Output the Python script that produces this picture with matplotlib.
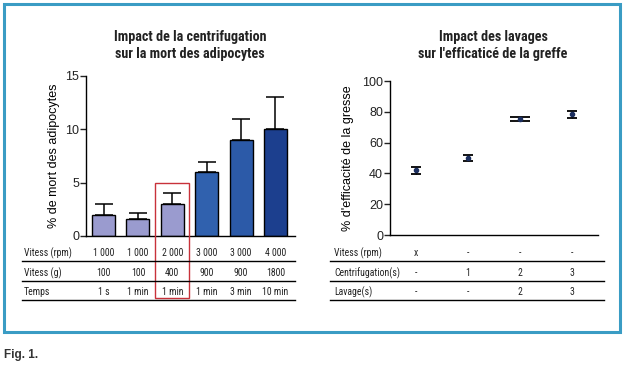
import matplotlib
matplotlib.use('Agg')
import matplotlib.pyplot as plt
from matplotlib import font_manager
from matplotlib.patches import Rectangle
from matplotlib.lines import Line2D
from matplotlib.transforms import blended_transform_factory

# données
vitess_rpm = ['1 000', '1 000', '2 000', '3 000', '3 000', '4 000']
vitess_g = ['100', '100', '400', '900', '900', '1800']
temps = ['1 s', '1 min', '1 min', '1 min', '3 min', '10 min']
mort = [2.0, 1.6, 3.0, 6.0, 9.0, 10.0]
mort_err = [1.0, 0.6, 1.0, 0.9, 2.0, 3.0]
bar_colors = ['#9a9bcf', '#9a9bcf', '#9a9bcf', '#3061ae', '#2c5aa8', '#1c3f8e']

lav_rpm = ['x', '-', '-', '-']
lav_centri = ['-', '1', '2', '3']
lav_lavage = ['-', '-', '2', '3']
efficacite = [42.0, 50.0, 75.3, 78.3]
eff_err = [2.3, 1.8, 1.0, 2.3]
eff_caps = [3.5, 3.5, 7, 3.5]

# police étroite si disponible
ttf = font_manager.fontManager.ttflist
names = {f.name for f in ttf}
narrow = None
for cand in ['Liberation Sans Narrow', 'Roboto Condensed', 'Open Sans Condensed',
             'Arial Narrow', 'DejaVu Sans Condensed']:
    if cand in names:
        narrow = {'family': cand}
        break
if narrow is None:
    cond = [f for f in ttf if f.stretch in ('condensed', 'semi-condensed', 'extra-condensed')
            or f.stretch in (500 - 200, 400 - 100)]
    if cond:
        narrow = {'family': cond[0].name, 'fontstretch': 'condensed'}
if narrow is None:
    narrow = {'family': 'Liberation Sans'}
    tab_size, title_size = 6.2, 8.2
else:
    tab_size, title_size = 7, 10.2

plt.rcParams['font.family'] = ['Liberation Sans', 'DejaVu Sans']

W, H = 627, 369
fig = plt.figure(figsize=(W / 100, H / 100), dpi=100)
fig.patch.set_facecolor('white')


def fx(px):
    return px / W


def fy(py):
    return 1 - py / H


# cadre bleu
fig.add_artist(Rectangle((fx(4), fy(332)), fx(616), 328 / H, transform=fig.transFigure,
                         fill=False, edgecolor='#3a9cc4', linewidth=2.2))

# ---- graphique gauche ----
ax1 = fig.add_axes([fx(86), fy(236), fx(295 - 86), (236 - 76) / H])
x1 = list(range(len(mort)))
ax1.bar(x1, mort, width=0.67, color=bar_colors, edgecolor='black', linewidth=1.0, zorder=2)
ax1.errorbar(x1, mort, yerr=[[0] * len(mort), mort_err], fmt='none', ecolor='black',
             elinewidth=1.1, capsize=6.8, capthick=1.1, zorder=1)
ax1.set_xlim(-0.51, 5.57)
ax1.set_ylim(0, 15)
ax1.set_yticks([0, 5, 10, 15])
ax1.set_xticks([])
ax1.set_ylabel('% de mort des adipocytes', fontsize=9, labelpad=4)

# ---- graphique droit ----
ax2 = fig.add_axes([fx(390), fy(235), fx(598 - 390), (235 - 81) / H])
x2 = list(range(len(efficacite)))
for xi, yi, ei, ci in zip(x2, efficacite, eff_err, eff_caps):
    ax2.errorbar(xi, yi, yerr=ei, fmt='o', color='#1c2f5f', markersize=3,
                 ecolor='black', elinewidth=1.0, capsize=ci, capthick=1.3)
ax2.set_xlim(-0.5, 3.5)
ax2.set_ylim(0, 100)
ax2.set_yticks([0, 20, 40, 60, 80, 100])
ax2.set_xticks([])
ax2.set_ylabel("% d'efficacité de la gresse", fontsize=9, labelpad=6)

for ax in (ax1, ax2):
    ax.spines['top'].set_visible(False)
    ax.spines['right'].set_visible(False)
    ax.spines['left'].set_linewidth(1.0)
    ax.spines['bottom'].set_linewidth(1.0)
    ax.tick_params(axis='y', length=4, width=1.0, labelsize=9, pad=1, colors='#222222')
    ax.patch.set_alpha(0)

# titres
fig.text(fx(190), fy(45.5), 'Impact de la centrifugation\nsur la mort des adipocytes',
         ha='center', va='center', fontsize=title_size, fontweight='bold',
         linespacing=1.25, color='#222222', **narrow)
fig.text(fx(493), fy(45.5), "Impact des lavages\nsur l'efficaticé de la greffe",
         ha='center', va='center', fontsize=title_size, fontweight='bold',
         linespacing=1.25, color='#222222', **narrow)

# tableaux sous les graphiques
row_y = [253, 273, 292]
line_y = [261, 281, 300]


def draw_table(ax, labels, rows, x0, x1px, lab_x):
    tr = blended_transform_factory(ax.transData, fig.transFigure)
    for ry, lab, vals in zip(row_y, labels, rows):
        fig.text(fx(lab_x), fy(ry), lab, ha='left', va='center', fontsize=tab_size,
                 color='#222222', **narrow)
        for xi, v in enumerate(vals):
            fig.text(xi, fy(ry), v, ha='center', va='center', fontsize=tab_size,
                     color='#222222', transform=tr, **narrow)
    for ly in line_y:
        fig.add_artist(Line2D([fx(x0), fx(x1px)], [fy(ly), fy(ly)],
                              transform=fig.transFigure, color='black', linewidth=1.0))


draw_table(ax1, ['Vitess (rpm)', 'Vitess (g)', 'Temps'],
           [vitess_rpm, vitess_g, temps], 22, 295, 24)
draw_table(ax2, ['Vitess (rpm)', 'Centrifugation(s)', 'Lavage(s)'],
           [lav_rpm, lav_centri, lav_lavage], 330, 604, 334)

# cadre rouge autour de la condition 2 000 rpm
top = fig.transFigure.inverted().transform(ax1.transData.transform((0, 5)))[1]
tr1 = blended_transform_factory(ax1.transData, fig.transFigure)
fig.add_artist(Rectangle((1.5, fy(298)), 1.0, top - fy(298), transform=tr1,
                         fill=False, edgecolor='#c8323a', linewidth=1.0))

fig.text(fx(4), fy(355), 'Fig. 1.', ha='left', va='center', fontsize=8.5,
         fontweight='bold', color='#333333')

fig.savefig('out.png', dpi=100)
